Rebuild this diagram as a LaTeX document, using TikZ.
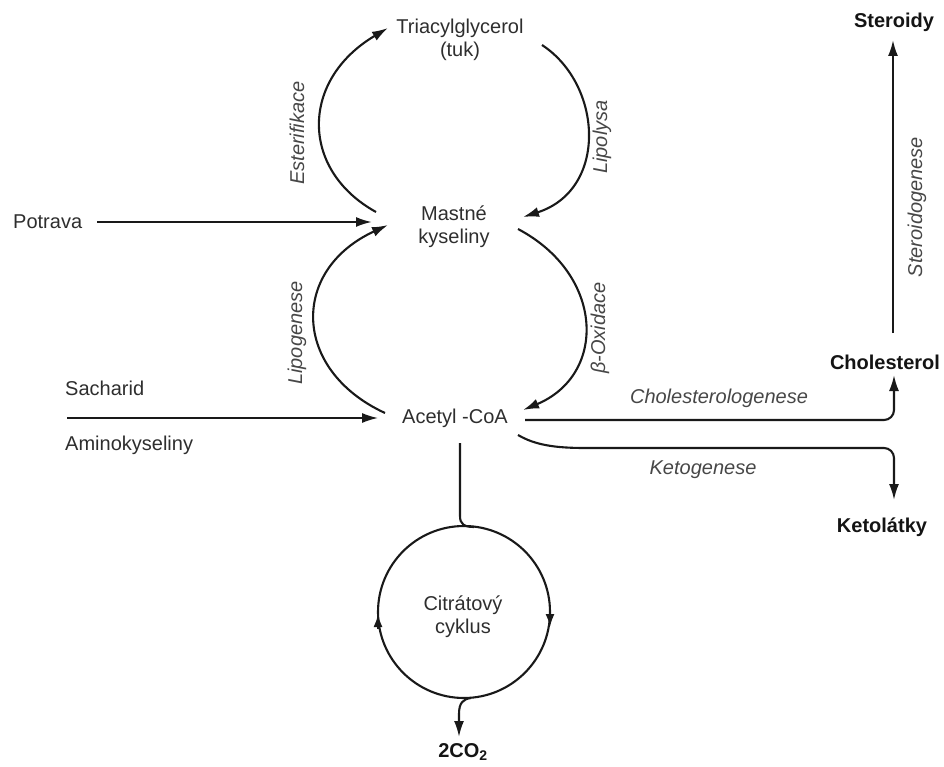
\documentclass[tikz,border=0pt]{standalone}
\usepackage{fontspec}
\setmainfont{Liberation Sans}
\usetikzlibrary{arrows.meta,calc}
\begin{document}
\begin{tikzpicture}[x=1pt,y=-1pt,
  txt/.style={inner sep=0pt, text=black!82, font=\fontsize{20}{23}\selectfont, align=center},
  bld/.style={inner sep=0pt, text=black!92, font=\fontsize{20}{23}\selectfont\bfseries, align=center},
  itl/.style={inner sep=0pt, text=black!72, font=\fontsize{20}{23}\selectfont\itshape, align=center},
  conn/.style={line width=2.1pt, draw=black!90},
  arr/.style={conn, -{Latex[length=16pt,width=10pt]}},
  smallarr/.style={conn, -{Latex[length=13pt,width=9pt]}},
  thinarr/.style={line width=1.5pt, draw=black!90, -{Latex[length=16pt,width=10pt]}},
]
\useasboundingbox (0,0) rectangle (944,767);

% main nodes
\node[txt] (tag) at (460,40) {Triacylglycerol\\(tuk)};
\node[txt] (fa) at (454,227) {Mastné\\kyseliny};
\node[txt] (acoa) at (455,418) {Acetyl -CoA};
\node[txt, anchor=west] (potrava) at (13,222) {Potrava};
\node[txt, anchor=west] (sach) at (65,388) {Sacharid};
\node[txt, anchor=west] (amino) at (65,445) {Aminokyseliny};
\node[bld] (ster) at (894,22) {Steroidy};
\node[bld] (chol) at (885,362) {Cholesterol};
\node[bld] (keto) at (882,527) {Ketolátky};
\node[bld] (co2) at (463,752) {2CO\textsubscript{2}};
\node[draw, circle, line width=2.1pt, draw=black!90, minimum size=172pt] (cyc) at (464,612) {};
\node[txt] (cyctext) at (463,617) {Citrátový\\cyklus};

% process labels
\node[itl, rotate=90] (esterif) at (297,133) {Esterifikace};
\node[itl, rotate=90] (lipolysa) at (602,137) {Lipolysa};
\node[itl, rotate=90] (lipogen) at (297,333) {Lipogenese};
\node[itl, rotate=90] (betaox) at (600,328) {β-Oxidace};
\node[itl, rotate=90] (steroidog) at (917,207) {Steroidogenese};
\node[itl] (cholgen) at (719,398) {Cholesterologenese};
\node[itl] (ketogen) at (703,470) {Ketogenese};

% connector end points
\coordinate (esS) at (376,212);
\coordinate (esE) at (388,28);
\coordinate (lyS) at (542,45);
\coordinate (lyE) at (523,217);
\coordinate (lgS) at (385,413);
\coordinate (lgE) at (388,225);
\coordinate (boS) at (518,229);
\coordinate (boE) at (523,410);
\coordinate (potS) at (97,222);
\coordinate (potE) at (372,222);
\coordinate (sacS) at (67,418);
\coordinate (sacE) at (378,418);
\coordinate (chS) at (525,420);
\coordinate (chE) at (894,375);
\coordinate (keS) at (518,435);
\coordinate (keE) at (894,500);
\coordinate (stS) at (893,333);
\coordinate (stE) at (893,40);
\coordinate (acS) at (460,443);
\coordinate (cyIn) at (474,527);
\coordinate (cyOut) at (471,698);
\coordinate (co2E) at (459,737);

% cycle of fatty acids
\draw[arr] (esS) .. controls (300,170) and (300,80) .. (esE);
\draw[arr] (lyS) .. controls (603,85) and (608,190) .. (lyE);
\draw[arr] (lgS) .. controls (292,370) and (290,270) .. (lgE);
\draw[arr] (boS) .. controls (605,275) and (607,375) .. (boE);

% inputs
\draw[arr] (potS) -- (potE);
\draw[thinarr] (sacS) -- (sacE);

% outputs to the right
\draw[arr, rounded corners=10pt] (chS) -- (chS -| chE) -- (chE);
\draw[arr] (keS) .. controls (535,445) and (555,448) .. (585,448) [rounded corners=10pt] -- (keE |- 0,448) -- (keE);
\draw[arr] (stS) -- (stE);

% to citrate cycle
\draw[conn] (acS) -- (460,516) .. controls (460,524) and (464,527) .. (cyIn);
\draw[smallarr] (378,629) -- (378,614);
\draw[smallarr] (550,612) -- (550,627);
\draw[arr] (cyOut) .. controls (463,699) and (459,703) .. (459,714) -- (co2E);
\end{tikzpicture}
\end{document}
